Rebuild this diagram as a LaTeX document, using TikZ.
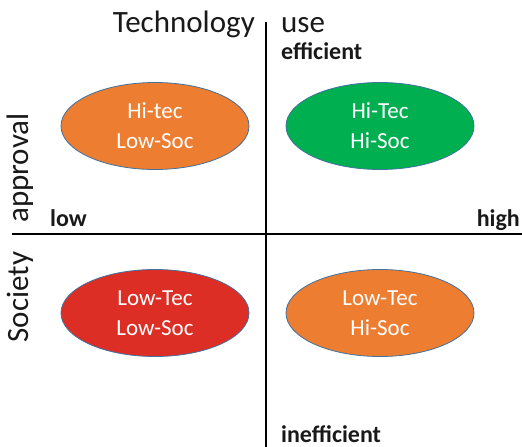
\documentclass[tikz,border=0pt]{standalone}
\usepackage{fontspec}
\setmainfont{Carlito}
\usepackage{tikz}
\usetikzlibrary{positioning, shapes.geometric}

\definecolor{qorange}{HTML}{ED7D31}
\definecolor{qgreen}{HTML}{00B050}
\definecolor{qred}{HTML}{DC2E25}
\definecolor{qedge}{HTML}{41719C}

\begin{document}
\begin{tikzpicture}[
    % GLOBAL SETTINGS
    x=1pt, y=-1pt,
    % STYLES
    quad/.style={ellipse, draw=qedge, line width=0.8pt, minimum width=188pt, minimum height=87pt,
                 inner sep=0pt, align=center, text=white, font=\fontsize{23}{30}\selectfont},
    axis_title/.style={inner sep=0pt, font=\fontsize{31}{36}\selectfont, text=black!90},
    axis_label/.style={inner sep=0pt, font=\fontsize{24}{28}\selectfont\bfseries, text=black!90},
    axis/.style={draw, line width=1.6pt, -}
]

    \useasboundingbox (0,0) rectangle (522,447);

    % axes
    \coordinate (top)    at (266,22);
    \coordinate (bottom) at (266,447);
    \coordinate (left)   at (12,234);
    \coordinate (right)  at (522,234);
    \draw[axis] (top) -- (bottom);
    \draw[axis] (left) -- (right);

    % quadrants
    \foreach \name/\cx/\cy/\col/\txt in {
        hl/155/126/qorange/{Hi-tec\\Low-Soc},
        hh/380/126/qgreen/{Hi-Tec\\Hi-Soc},
        ll/155/313/qred/{Low-Tec\\Low-Soc},
        lh/380/313/qorange/{Low-Tec\\Hi-Soc}} {
        \node[quad, fill=\col] (\name) at (\cx,\cy) {\txt};
    }

    % axis titles
    \node[axis_title, anchor=base east] (tech) at (255,32) {Technology};
    \node[axis_title, anchor=base west] (use)  at (281,32) {use};
    \node[axis_title, anchor=base, rotate=90] (appr) at (28,168) {approval};
    \node[axis_title, anchor=base, rotate=90] (soc)  at (28,297) {Society};

    % axis labels
    \node[axis_label, anchor=base west] (eff)   at (281,59)  {efficient};
    \node[axis_label, anchor=base west] (ineff) at (281,442) {inefficient};
    \node[axis_label, anchor=base west] (low)   at (50,226)  {low};
    \node[axis_label, anchor=base east] (high)  at (520,226) {high};

\end{tikzpicture}
\end{document}
